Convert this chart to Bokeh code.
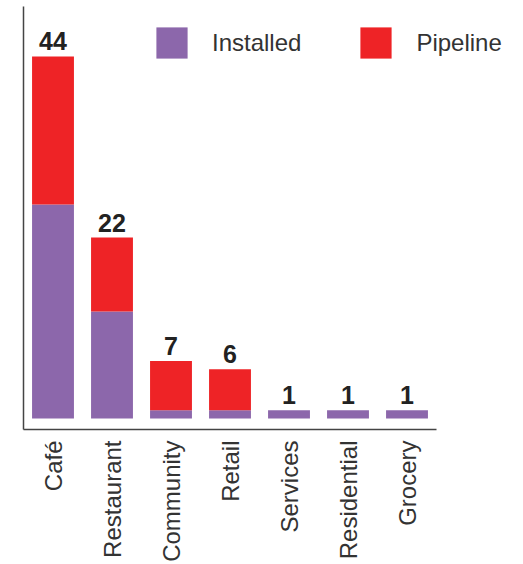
import math
from bokeh.plotting import figure
from bokeh.models import ColumnDataSource, LabelSet, Legend, FixedTicker, Range1d
from bokeh.core.properties import value
from bokeh.embed import file_html
from bokeh.resources import INLINE

categories = ["Café", "Restaurant", "Community", "Retail", "Services", "Residential", "Grocery"]
installed = [26, 13, 1, 1, 1, 1, 1]
pipeline = [18, 9, 6, 5, 0, 0, 0]
totals = [i + p for i, p in zip(installed, pipeline)]
series = ["Installed", "Pipeline"]
colors = ["#8C67AB", "#EE2326"]

xs = list(range(len(categories)))
source = ColumnDataSource(dict(
    x=xs,
    Installed=installed,
    Pipeline=pipeline,
    total=totals,
    label=[str(t) for t in totals],
))

FRAME_W = 492
PX_PER_CAT = 59
p = figure(x_range=Range1d(-0.5, -0.5 + FRAME_W / PX_PER_CAT),
           y_range=Range1d(-1.33, 50.07),
           frame_width=FRAME_W, frame_height=423,
           output_backend="svg", toolbar_location=None,
           min_border_left=23, min_border_right=0, min_border_top=6, min_border_bottom=0)
p.background_fill_color = None
p.border_fill_color = None
p.outline_line_color = None
p.grid.grid_line_color = None

renderers = p.vbar_stack(series, x="x", width=0.71, color=colors, line_color=None, source=source)

legend = Legend(items=[(s, [r]) for s, r in zip(series, renderers)],
                orientation="horizontal", location=(129, 367),
                glyph_width=39, glyph_height=39, label_standoff=21, spacing=55,
                padding=0, margin=0, border_line_color=None, background_fill_alpha=0,
                label_text_font="Liberation Sans", label_text_font_size="24px",
                label_text_color="#333333", label_text_baseline="middle")
p.add_layout(legend)

labels = LabelSet(x="x", y="total", text="label", source=source, y_offset=6,
                  text_align="center", text_baseline="alphabetic",
                  text_font=value("Liberation Sans"), text_font_style="bold",
                  text_font_size="25px", text_color="#222222")
p.add_layout(labels)

p.yaxis.ticker = FixedTicker(ticks=[])
p.yaxis.major_tick_out = 0
p.yaxis.major_tick_in = 0
p.yaxis.minor_tick_line_color = None
p.yaxis.major_label_standoff = 0
p.yaxis.axis_line_color = "#444444"
p.yaxis.axis_line_width = 1.5

p.xaxis.ticker = FixedTicker(ticks=xs)
p.xaxis.major_label_overrides = {i: c for i, c in zip(xs, categories)}
p.xaxis.bounds = (-0.5, len(categories) - 0.5)
p.xaxis.major_tick_line_color = None
p.xaxis.minor_tick_line_color = None
p.xaxis.major_tick_out = 0
p.xaxis.major_label_standoff = 11
p.xaxis.major_label_orientation = math.pi / 2
p.xaxis.major_label_text_font = "Liberation Sans"
p.xaxis.major_label_text_font_size = "24px"
p.xaxis.major_label_text_color = "#333333"
p.xaxis.axis_line_color = "#444444"
p.xaxis.axis_line_width = 1.5

open("out.html", "w").write(file_html(p, INLINE))
